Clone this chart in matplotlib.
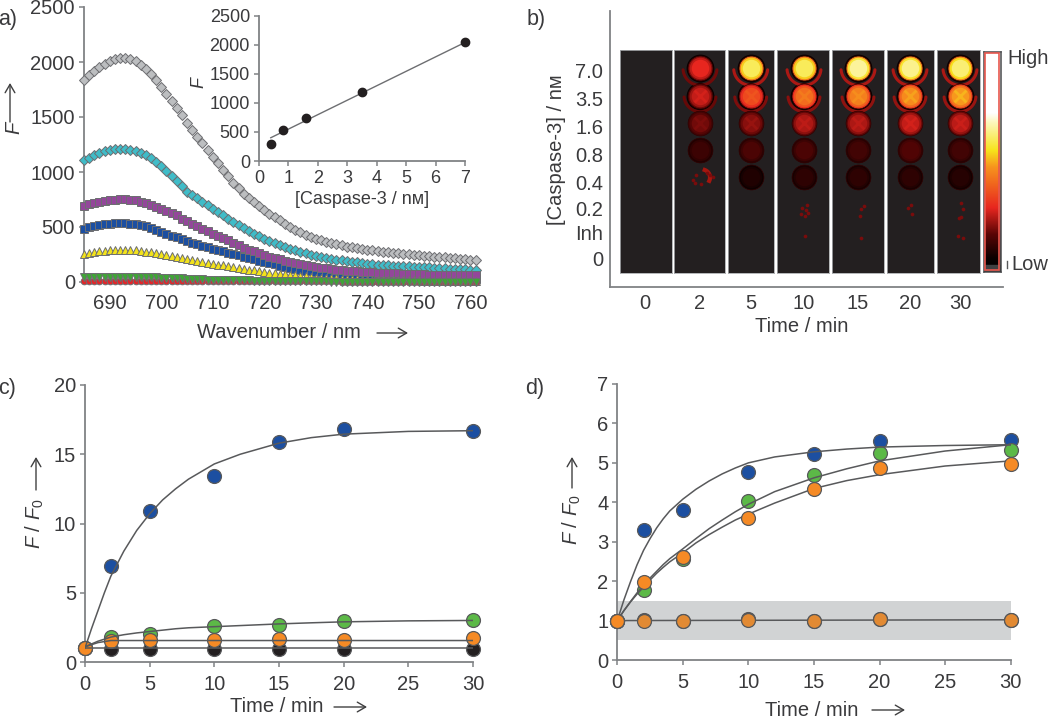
import numpy as np
import matplotlib
matplotlib.use("Agg")
import matplotlib.pyplot as plt
from matplotlib.colors import LinearSegmentedColormap
from matplotlib.patches import Rectangle

plt.rcParams['font.family'] = ['Liberation Sans', 'DejaVu Sans']
plt.rcParams['mathtext.fontset'] = 'custom'
plt.rcParams['mathtext.rm'] = 'Liberation Sans'
plt.rcParams['mathtext.it'] = 'Liberation Sans:italic'

# ---------- data ----------
wavelength = list(range(685, 762))
spec_gray = [1836,1880,1920,1955,1985,2010,2028,2036,2036,2025,2005,1975,1940,1890,1835,1775,1710,1645,1580,1515,1447,1385,1320,1260,1200,1138,1080,1020,960,900,850,800,760,725,690,652,620,590,560,530,500,475,450,430,410,392,378,365,352,342,332,322,314,306,300,294,288,282,276,271,266,261,256,251,247,243,239,235,231,227,224,220,216,212,208,204,200]
spec_cyan = [1105,1130,1155,1175,1190,1198,1205,1210,1208,1203,1190,1175,1155,1130,1095,1055,1010,965,920,870,820,790,760,728,697,667,635,605,575,545,516,490,465,440,417,395,375,355,337,320,303,288,274,260,247,234,224,215,207,202,197,190,184,178,172,167,163,159,155,152,149,146,144,141,139,137,135,132,130,127,125,122,120,117,115,112,110]
spec_purple = [689,705,718,730,738,743,748,750,750,748,743,730,715,700,680,660,645,625,605,575,550,525,505,482,460,440,420,400,378,358,335,312,295,278,260,243,230,218,205,193,182,172,163,154,145,137,131,125,118,112,106,103,100,97,94,91,88,86,84,82,80,78,76,74,72,70,69,68,67,66,65,64,63,62,62,61,60]
spec_blue = [486,498,510,520,526,531,533,533,532,529,525,518,508,495,475,455,438,421,405,389,373,358,345,331,317,303,291,279,267,255,243,231,219,207,195,182,171,160,149,138,127,118,110,103,97,91,87,82,78,74,70,67,64,61,58,55,53,52,50,49,47,46,45,44,42,41,40,39,38,37,36,35,34,33,32,31,30]
spec_yellow = [258,266,274,280,285,288,290,291,291,290,288,284,277,270,262,252,244,236,228,220,212,203,194,185,176,167,159,151,143,135,127,120,113,106,99,91,86,81,76,71,67,61,56,51,45,40,38,36,34,32,30,28,26,24,22,21,20,19,18,17,16,16,15,15,14,14,13,13,12,12,11,11,10,10,9,9,8]
spec_green = [45,45,45,45,45,45,45,45,45,45,45,44,43,42,41,40,38,36,34,32,30,28,26,24,22,21,20,19,18,17,16,15,14,13,12,11,10,9,8,8,7,7,6,6,6,5,5,5,4,4,4,4,4,3,3,3,3,3,3,3,3,3,2,2,2,2,2,2,2,2,2,2,2,2,2,2,2]
spec_red = [8,8,8,8,8,8,8,8,8,8,8,8,8,8,7,7,7,7,7,7,7,7,7,7,6,6,6,6,6,6,6,6,6,6,5,5,5,5,5,5,5,5,5,5,5,5,5,5,5,5,4,4,4,4,4,4,4,4,4,4,4,4,4,4,4,4,4,4,4,4,4,4,4,4,4,4,4]

inset_conc = [0.4, 0.8, 1.6, 3.5, 7.0]
inset_F = [290, 530, 745, 1190, 2040]
inset_fit_x = [0.4, 7.0]
inset_fit_y = [400, 2040]

time_cats = ['0', '2', '5', '10', '15', '20', '30']
conc_cats = ['7.0', '3.5', '1.6', '0.8', '0.4', '0.2', 'Inh', '0']
# intensity per well (rows) and time (columns), 0..1 on the colour scale
well_7_0 = [0, .29, .60, .60, .65, .64, .62]
well_3_5 = [0, .26, .35, .41, .44, .46, .48]
well_1_6 = [0, .19, .21, .24, .24, .26, .25]
well_0_8 = [0, .13, .15, .15, .14, .16, .14]
well_0_4 = [0, 0, .09, .11, .11, .11, .10]
# faint residual specks: (column, row, px offset)
speck_col = [1,1,1,1,1,1,1, 3,3,3,3,3,3, 4,4,4, 5,5,5, 6,6,6,6, 3,4,6,6]
speck_row = [3.85,3.92,4.0,3.9,4.1,4.2,4.25, 5.0,5.1,5.2,5.3,5.4,5.35, 5.05,5.15,5.4, 5.0,5.1,5.35, 4.95,5.15,5.45,5.5, 6.15,6.2,6.15,6.2]
speck_off = [7,10,13,-4,-7,-5,1, 3,-2,2,4,1,-3, 6,3,2, 1,-2,2, 1,3,1,-1, 1,3,-2,3]

time_c = [0, 2, 5, 10, 15, 20, 30]
c_blue = [1, 6.9, 10.9, 13.4, 15.9, 16.8, 16.7]
c_green = [1, 1.8, 2.0, 2.6, 2.7, 2.95, 3.0]
c_orange = [1, 1.55, 1.6, 1.6, 1.65, 1.6, 1.7]
c_black = [1, .95, .95, .95, .95, .95, .95]
fit_c_t = [0, .5, 1, 1.5, 2, 3, 4, 5, 6, 7, 8, 10, 12, 15, 17.5, 20, 25, 30]
fit_c_blue = [1, 2.4, 3.7, 5.0, 6.2, 8.0, 9.5, 10.7, 11.7, 12.5, 13.2, 14.3, 15.0, 15.8, 16.2, 16.45, 16.65, 16.7]
fit_c_green = [1.1, 1.3, 1.5, 1.65, 1.8, 1.97, 2.1, 2.2, 2.3, 2.4, 2.47, 2.55, 2.63, 2.75, 2.83, 2.9, 2.97, 3.0]
fit_c_orange_t = [0, 1, 2, 30]
fit_c_orange = [1.1, 1.4, 1.55, 1.55]
fit_c_black_t = [0, 30]
fit_c_black = [1, 1]

d_blue = [1, 3.3, 3.8, 4.77, 5.22, 5.55, 5.58]
d_green = [1, 1.78, 2.55, 4.03, 4.68, 5.24, 5.32]
d_orange = [1, 1.98, 2.6, 3.6, 4.33, 4.88, 4.96]
d_low_black = [1, 1.02, 1, 1.03, 1, 1.03, 1.02]
d_low_orange = [1, 1, 1, 1.02, 1, 1.03, 1.02]
fit_d_t = [0, .5, 1, 1.5, 2, 2.5, 3, 3.5, 4, 5, 6, 7, 8, 9, 10, 12, 15, 17.5, 20, 25, 30]
fit_d_blue = [1, 1.52, 1.98, 2.41, 2.78, 3.08, 3.35, 3.58, 3.78, 4.08, 4.33, 4.54, 4.72, 4.87, 5.0, 5.15, 5.28, 5.35, 5.4, 5.44, 5.46]
fit_d_green = [1, 1.25, 1.48, 1.7, 1.9, 2.08, 2.25, 2.42, 2.57, 2.82, 3.08, 3.33, 3.55, 3.76, 3.95, 4.27, 4.62, 4.85, 5.05, 5.3, 5.46]
fit_d_orange = [1, 1.25, 1.47, 1.67, 1.85, 2.03, 2.2, 2.35, 2.49, 2.72, 2.97, 3.18, 3.37, 3.55, 3.7, 3.98, 4.35, 4.55, 4.7, 4.92, 5.05]
fit_d_flat_t = [0, 30]
fit_d_flat = [1, 1.02]
band_low, band_high = 0.5, 1.5

# ---------- style ----------
W, H = 1050, 719
TXT = '#3a3a3c'
AX = '#808285'
FS = 14.5
C_BLUE, C_GREEN, C_ORANGE, C_BLACK = '#1c4fa1', '#5cb947', '#f58a25', '#231f20'
EDGE = '#58595b'
LINE = '#58595b'

fig = plt.figure(figsize=(W / 100, H / 100), dpi=100, facecolor='white')


def axpx(l, t, r, b, **kw):
    return fig.add_axes([l / W, 1 - b / H, (r - l) / W, (b - t) / H], **kw)


def ftext(x, y, s, **kw):
    kw.setdefault('color', TXT)
    kw.setdefault('fontsize', FS)
    kw.setdefault('ha', 'center')
    kw.setdefault('va', 'center')
    fig.text(x / W, 1 - y / H, s, **kw)


def farrow(x0, y0, x1, y1):
    fig.add_artist(matplotlib.patches.FancyArrowPatch(
        (x0 / W, 1 - y0 / H), (x1 / W, 1 - y1 / H), transform=fig.transFigure,
        arrowstyle='->,head_length=6,head_width=3.5', color='#404041', lw=1.0,
        shrinkA=0, shrinkB=0))


def style(ax, fs=FS, xpad=5, ylen=3.5, xlen=3.5):
    for s in ('top', 'right'):
        ax.spines[s].set_visible(False)
    for s in ('left', 'bottom'):
        ax.spines[s].set_color(AX)
        ax.spines[s].set_linewidth(1.3)
    ax.tick_params(axis='x', colors=AX, labelcolor=TXT, labelsize=fs, length=xlen, width=1.1, pad=xpad)
    ax.tick_params(axis='y', colors=AX, labelcolor=TXT, labelsize=fs, length=ylen, width=1.1, pad=3)
    ax.patch.set_alpha(0)


# ---------- panel a ----------
ax = axpx(84, 7, 475, 282)
style(ax, xpad=9, xlen=0)
ax.set_xlim(685, 760.9)
ax.set_ylim(0, 2500)
ax.set_xticks(range(690, 761, 10))
ax.set_yticks(range(0, 2501, 500))
sty = [(spec_gray, 'D', '#bcbec0', 4.7), (spec_cyan, 'D', '#3fbcc8', 4.7),
       (spec_purple, 's', '#93479a', 5.8), (spec_blue, 's', '#1c4fa1', 5.8),
       (spec_yellow, '^', '#f2e21c', 5.2), (spec_green, 'v', '#3fa535', 5.2),
       (spec_red, 'o', '#e3262a', 4.8)]
order = [3, 0, 1, 2, 4, 6, 5]
for i in order:
    y, m, c, ms = sty[i]
    ax.plot(wavelength, y, ls='none', marker=m, mfc=c, mec='#6d6e71', mew=0.7, ms=ms,
            clip_on=False, zorder=3 + order.index(i))
ax.spines['left'].set_zorder(1)
ftext(279, 333, 'Wavenumber / nm')
farrow(377, 333, 408, 333)
ftext(14, 128, 'F', rotation=90, style='italic')
farrow(10, 122, 10, 83)

# inset
ins = axpx(259, 15.7, 465, 161)
style(ins, fs=13, xpad=3)
ins.set_xlim(0, 7)
ins.set_ylim(0, 2500)
ins.set_xticks(range(0, 8))
ins.set_yticks(range(0, 2501, 500))
ins.plot(inset_fit_x, inset_fit_y, color='#6d6e71', lw=1.0, zorder=2)
ins.plot(inset_conc, inset_F, ls='none', marker='o', ms=6, color='#231f20', clip_on=False, zorder=3)
ftext(362, 200, '[Caspase-3 / nм]', fontsize=13)
ftext(199, 82, 'F', rotation=90, style='italic', fontsize=13)

# ---------- panel b ----------
cmap = LinearSegmentedColormap.from_list('heat', [
    (0, '#000000'), (.06, '#0a0000'), (.17, '#5a0505'), (.29, '#e8261f'),
    (.475, '#f7941d'), (.55, '#f7e31b'), (.68, '#fdf8c0'), (.72, '#ffffff'), (1, '#ffffff')])

bx = axpx(610, 11, 1003, 287)
style(bx, xpad=5, xlen=0, ylen=0)
bx.set_xlim(610, 1003)
bx.set_ylim(287, 11)
col_left = [620, 674.3, 727.7, 776.7, 832, 887, 936.7]
col_right = [671.7, 725, 774.3, 829.3, 884.3, 934.3, 980]
col_center = [645, 700, 750.7, 804, 858, 910, 960]
row_step = 27.3
row_top = 68.3
well_rows = [well_7_0, well_3_5, well_1_6, well_0_8, well_0_4]
bx.set_xticks(col_center)
bx.set_xticklabels(time_cats)
bx.set_yticks([71, 99, 126, 154, 182, 209, 233, 259])
bx.set_yticklabels(conc_cats)
bx.tick_params(axis='y', pad=5)


def arc(ax_, cx_, cy_, radius, a0, a1, **kw):
    ang = np.radians(np.linspace(a0, a1, 40))
    ax_.plot(cx_ + radius * np.cos(ang), cy_ + radius * np.sin(ang) / row_step, **kw)


for c in range(7):
    cax = axpx(col_left[c], 50, col_right[c], 272.7)
    xl = (col_left[c] - col_center[c], col_right[c] - col_center[c])
    yl = ((272.7 - row_top) / row_step, (50 - row_top) / row_step)
    cax.set_facecolor('#231f20')
    cax.set_xticks([])
    cax.set_yticks([])
    for s in cax.spines.values():
        s.set_color('#a7a9ac')
        s.set_linewidth(0.6)
    if c > 0:
        for r, vals in enumerate(well_rows):
            v = vals[c]
            if v <= 0:
                continue
            if r < 2:
                cax.scatter([0], [r], s=400, color='#0c0000', linewidths=0, zorder=2)
                arc(cax, 0, r, 17 if r == 0 else 16, 5, 175, color=cmap(min(.13 + v * .2, .24)),
                    lw=2.2, zorder=2.5, solid_capstyle='round')
            cax.scatter([0], [r], s=320, color=cmap(v * 0.72), linewidths=0.5,
                        edgecolors='#300000', zorder=3)
            cax.scatter([0], [r], s=240, color=cmap(v * 0.88), linewidths=0, zorder=3.1)
            cax.scatter([0], [r], s=160, color=cmap(v), linewidths=0, zorder=3.2)
            if 1 <= r <= 2:
                cax.scatter([0], [r], s=70, marker='x', color=cmap(v * 1.08), linewidths=2, alpha=.7, zorder=3.3)
        sx = [o for k, o in zip(speck_col, speck_off) if k == c]
        sy = [o for k, o in zip(speck_col, speck_row) if k == c]
        cax.scatter(sx, sy, s=7, color='#7a0c0c', linewidths=0, zorder=5)
        if c == 1:
            arc(cax, 2, 4, 8, -70, 25, color='#a5160f', lw=3, zorder=4)
    cax.set_xlim(*xl)
    cax.set_ylim(*yl)

cb = axpx(983.5, 51.7, 1000.5, 271.7)
cb.imshow(np.linspace(1, 0, 256).reshape(-1, 1), cmap=cmap, vmin=0, vmax=1, aspect='auto',
          extent=(0, 1, 0, 1))
cb.add_patch(Rectangle((0, 0), 1, .03, color='#404041', zorder=3))
cb.add_patch(Rectangle((.08, .006), .84, .988, fill=False, ec='#e8574e', lw=1.2, zorder=4))
cb.set_xticks([])
cb.set_yticks([])
for s in cb.spines.values():
    s.set_color('#58595b')
    s.set_linewidth(1.2)
ftext(1007, 59, 'High', ha='left')
ftext(1011, 264, 'Low', ha='left')
fig.add_artist(plt.Line2D([1006.5 / W, 1006.5 / W], [1 - 261 / H, 1 - 268 / H], color='#58595b', lw=1))
ftext(557, 150, '[Caspase-3] / nм', rotation=90)
ftext(802, 326, 'Time / min')

# ---------- panel c ----------
cx = axpx(85, 385, 473, 662)
style(cx, xpad=6)
cx.set_xlim(0, 30)
cx.set_ylim(0, 20)
cx.set_xticks(range(0, 31, 5))
cx.set_yticks(range(0, 21, 5))
for t, y in [(fit_c_t, fit_c_blue), (fit_c_t, fit_c_green), (fit_c_orange_t, fit_c_orange),
             (fit_c_black_t, fit_c_black)]:
    cx.plot(t, y, color=LINE, lw=1.1, zorder=6)
for y, col, z in [(c_black, C_BLACK, 2), (c_blue, C_BLUE, 3), (c_green, C_GREEN, 4), (c_orange, C_ORANGE, 5)]:
    cx.plot(time_c, y, ls='none', marker='o', ms=10, mfc=col, mec=EDGE, mew=0.9, clip_on=False, zorder=z)
ftext(35, 524, r'$\mathit{F}\ /\ \mathit{F_0}$', rotation=90)
farrow(36, 490, 36, 457)
ftext(277, 707, 'Time / min')
farrow(334, 707, 367, 707)

# ---------- panel d ----------
dx = axpx(617.3, 384, 1010.7, 660)
style(dx, xpad=6)
dx.set_xlim(0, 30)
dx.set_ylim(0, 7)
dx.set_xticks(range(0, 31, 5))
dx.set_yticks(range(0, 8))
dx.axhspan(band_low, band_high, color='#d1d3d4', lw=0, zorder=1)
for y in (fit_d_blue, fit_d_green, fit_d_orange):
    dx.plot(fit_d_t, y, color=LINE, lw=1.1, zorder=6)
dx.plot(fit_d_flat_t, fit_d_flat, color=LINE, lw=1.1, zorder=2)
for y, col, z in [(d_low_black, C_BLACK, 2), (d_low_orange, '#e28a33', 3), (d_blue, C_BLUE, 4),
                  (d_green, C_GREEN, 5), (d_orange, C_ORANGE, 7)]:
    dx.plot(time_c, y, ls='none', marker='o', ms=10, mfc=col, mec=EDGE, mew=0.9, clip_on=False, zorder=z)
ftext(572, 520, r'$\mathit{F}\ /\ \mathit{F_0}$', rotation=90)
farrow(572, 488, 572, 457)
ftext(812, 710, 'Time / min')
farrow(872, 710, 905, 710)

# panel labels
for x, y, s in [(8, 20, 'a)'), (536, 20, 'b)'), (7, 389, 'c)'), (535, 389, 'd)')]:
    ftext(x, y, s, fontsize=15.5)

fig.savefig('out.png', dpi=100)
